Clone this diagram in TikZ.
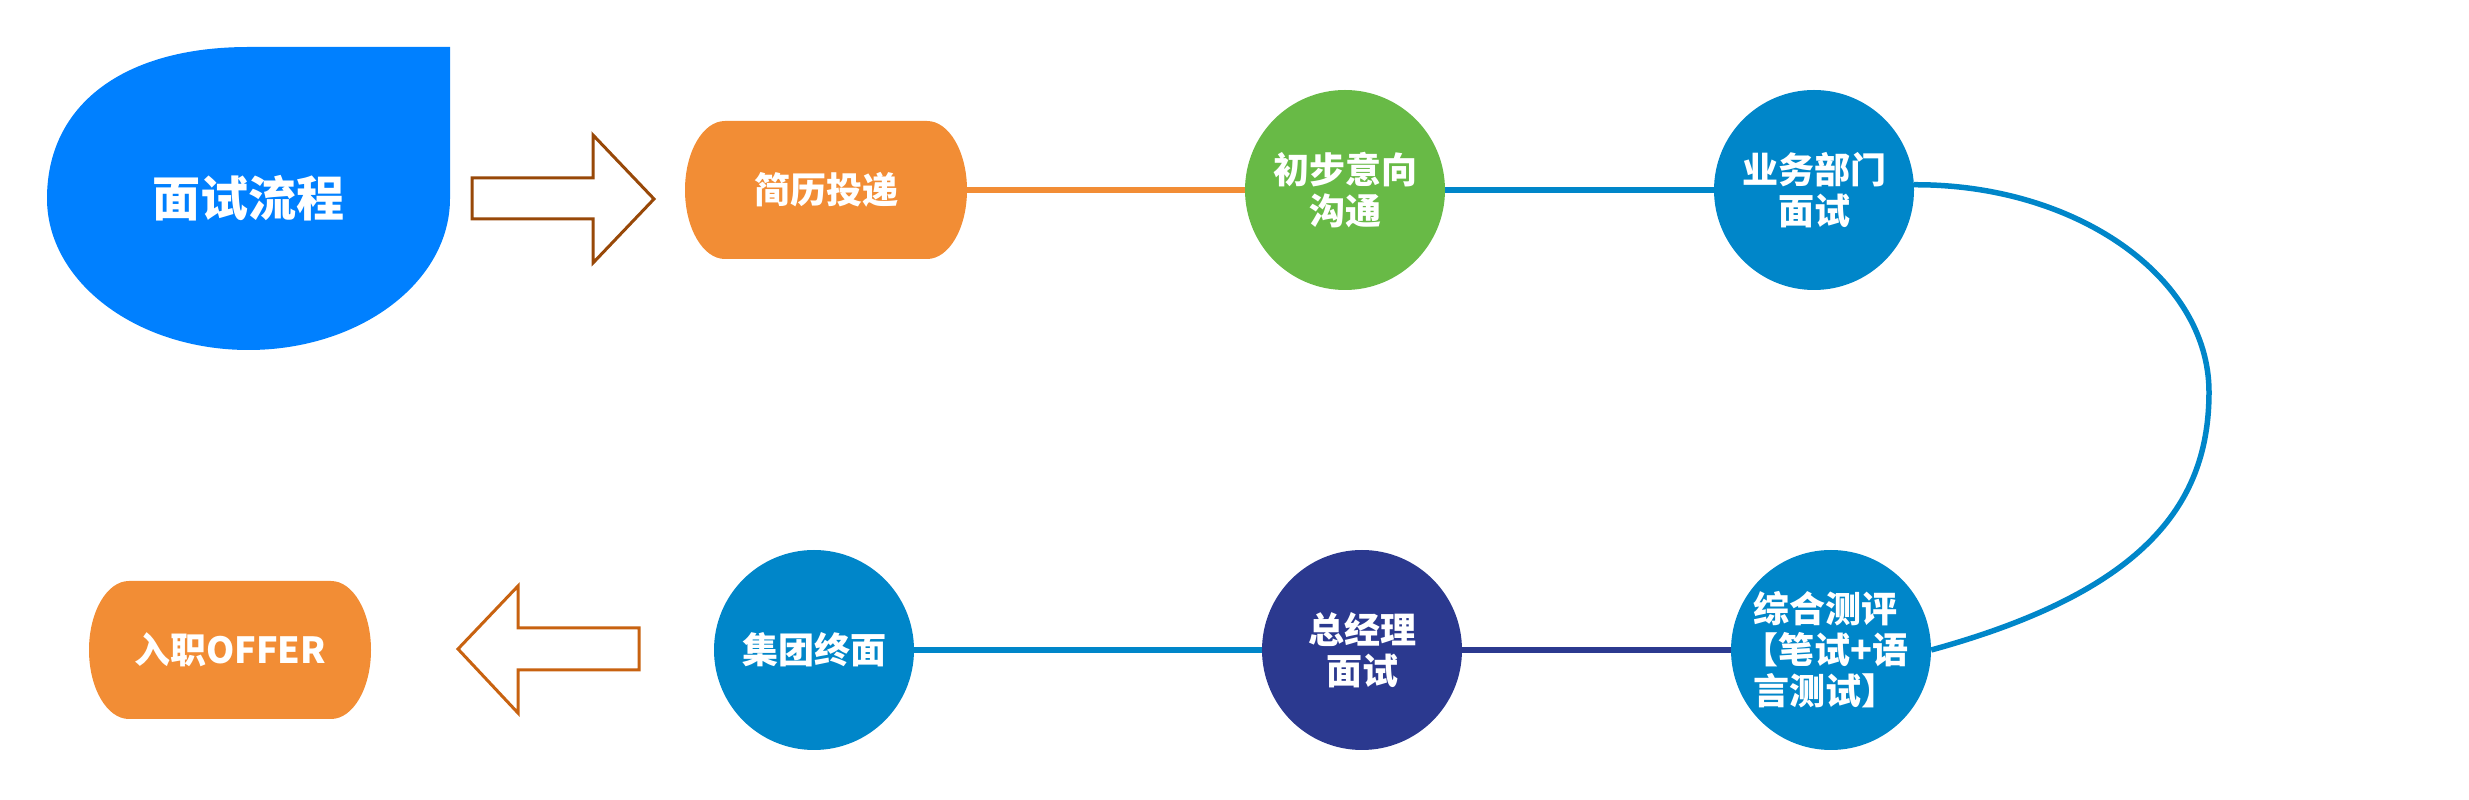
\documentclass[tikz,border=0pt]{standalone}
\usepackage{fontspec}
\newfontfamily\cjk{Noto Sans CJK SC}
\definecolor{tdblue}{RGB}{0,128,255}
\definecolor{orng}{RGB}{242,141,53}
\definecolor{grn}{RGB}{104,186,70}
\definecolor{cblue}{RGB}{0,134,201}
\definecolor{navy}{RGB}{43,57,143}
\definecolor{brownarrow}{RGB}{152,72,8}
\definecolor{orangearrow}{RGB}{200,98,16}
\begin{document}
\begin{tikzpicture}[x=1pt,y=1pt,
  lbl/.style={text=white, font=\cjk\bfseries\fontsize{36}{41}\selectfont, align=center, inner sep=0pt},
  stepcircle/.style={lbl, circle, fill=#1, minimum size=200pt},
  pill/.style={lbl, rectangle, minimum width=282pt, minimum height=138pt,
     path picture={\fill[orng] ([xshift=40pt]path picture bounding box.north west)
        -- ([xshift=-40pt]path picture bounding box.north east)
        arc[start angle=90,end angle=-90,x radius=40,y radius=69]
        -- ([xshift=40pt]path picture bounding box.south west)
        arc[start angle=270,end angle=90,x radius=40,y radius=69] -- cycle;}},
  link/.style={line width=5.5pt, draw=#1},
  blockarrow/.style={draw=#1, line width=3pt, fill=white, line join=miter}
]
\useasboundingbox (0,0) rectangle (2469,800);

% title teardrop
\node[lbl, font=\cjk\bfseries\fontsize{48}{56}\selectfont,
  minimum width=403pt, minimum height=303pt,
  path picture={\fill[tdblue] (path picture bounding box.north east)
     -- (path picture bounding box.north)
     .. controls +(-124.9,0) and +(0,93.9) .. (path picture bounding box.west)
     arc[start angle=180,end angle=360,x radius=201.5,y radius=151.5] -- cycle;}]
  (title) at (248.5,601.5) {\raisebox{-5pt}{面试流程}};

% block arrows
\draw[blockarrow=brownarrow] (472,622) -- (593,622) -- (593,665) -- (654,601)
  -- (593,537) -- (593,581) -- (472,581) -- cycle;
\draw[blockarrow=orangearrow] (639,172) -- (518,172) -- (518,214) -- (458,151)
  -- (518,87) -- (518,130) -- (639,130) -- cycle;

% steps
\node[pill] (cv) at (826,610) {简历投递};
\node[stepcircle=grn] (chu) at (1345,610) {初步意向\\沟通};
\node[stepcircle=cblue] (biz) at (1814,610) {业务部门\\面试};
\node[stepcircle=cblue, align=left] (zh) at (1831,150) {综合测评\\\hspace*{-0.3em}【笔试+语\hspace*{22pt}\\言测试】};
\node[stepcircle=navy] (gm) at (1362,150) {总经理\\面试};
\node[stepcircle=cblue] (jt) at (814,150) {集团终面};
\node[pill] (offer) at (230,150) {入职OFFER};

% connectors
\coordinate (bulge) at (2209,408);
\draw[link=orng] (cv.east) -- (chu.west);
\draw[link=cblue] (chu.east) -- (biz.west);
\draw[link=cblue] (biz.3.5) .. controls (2077,616) and (2209,522) .. (bulge)
  .. controls (2209,300) and (2150,210) .. (zh.east);
\draw[link=navy] (zh.west) -- (gm.east);
\draw[link=cblue] (gm.west) -- (jt.east);
\end{tikzpicture}
\end{document}
